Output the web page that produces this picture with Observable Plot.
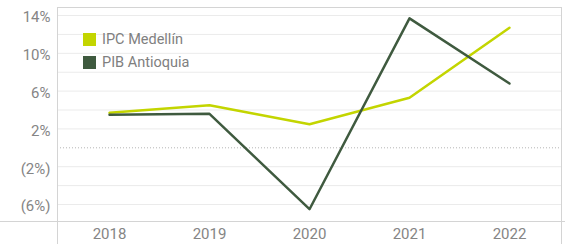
<!DOCTYPE html>
<html><head><meta charset="utf-8">
<script src="https://cdn.jsdelivr.net/npm/d3@7"></script>
<script src="https://cdn.jsdelivr.net/npm/@observablehq/plot@0.6"></script>
<style>
body{margin:0;background:#fff;font-family:Roboto,sans-serif;}
#wrap{position:relative;width:565px;height:244px;}
.ln{position:absolute;background:#d4d4d4;}
#legend{position:absolute;left:83px;top:28px;font-size:14.5px;color:#808080;}
.item{display:flex;align-items:center;height:23px;}
.sw{width:13px;height:13px;margin-right:6px;}
</style></head>
<body><div id="wrap"></div>
<script>
const years = ["2018","2019","2020","2021","2022"];
const ipcMedellin = [3.7, 4.5, 2.5, 5.3, 12.7];
const pibAntioquia = [3.5, 3.6, -6.5, 13.7, 6.8];
const gridTicks = [-6,-4,-2,2,4,6,8,10,12,14];
const labelTicks = [-6,-2,2,6,10,14];
const seriesNames = ["IPC Medellín","PIB Antioquia"];
const colors = ["#c3d500","#3f5a3f"];

const data = [];
years.forEach((y,i)=>{
  data.push({year:y, value:ipcMedellin[i], series:seriesNames[0]});
  data.push({year:y, value:pibAntioquia[i], series:seriesNames[1]});
});
const fmt = v => v < 0 ? `(${-v}%)` : `${v}%`;

const chart = Plot.plot({
  width:565, height:244,
  marginLeft:57, marginRight:4, marginTop:7, marginBottom:23,
  style:{fontFamily:"Roboto, sans-serif", fontSize:"15px", color:"#808080", background:"transparent"},
  x:{type:"point", domain:years, padding:0.5, axis:null},
  y:{domain:[-7.8,14.85], axis:null},
  color:{domain:seriesNames, range:colors},
  marks:[
    Plot.ruleY(gridTicks,{stroke:"#ebebeb", strokeWidth:1}),
    Plot.ruleY([0],{stroke:"#b5b5b5", strokeDasharray:"1,2", strokeWidth:1}),
    Plot.axisY(labelTicks,{tickFormat:fmt, tickSize:0, tickPadding:7, dy:2, fill:"#858585", fontSize:15, label:null}),
    Plot.axisX(years,{tickSize:0, tickPadding:7, fill:"#858585", fontSize:15, label:null}),
    Plot.line(data,{x:"year", y:"value", z:"series", stroke:"series", strokeWidth:2.5})
  ]
});
const wrap = document.getElementById("wrap");
wrap.appendChild(chart);
chart.style.position="absolute"; chart.style.left="0"; chart.style.top="0";
// frame lines
const lines = [
  {left:57, top:7, width:505, height:1},
  {left:0, top:221, width:565, height:1},
  {left:57, top:7, width:1, height:237},
  {left:561, top:7, width:1, height:237}
];
lines.forEach(l=>{const d=document.createElement("div");d.className="ln";
  Object.assign(d.style,{left:l.left+"px",top:l.top+"px",width:l.width+"px",height:l.height+"px"});wrap.appendChild(d);});
// legend
const lg = document.createElement("div"); lg.id="legend";
seriesNames.forEach((n,i)=>{
  const it=document.createElement("div"); it.className="item";
  it.innerHTML=`<span class="sw" style="background:${colors[i]}"></span><span>${n}</span>`;
  lg.appendChild(it);
});
wrap.appendChild(lg);
</script></body></html>
